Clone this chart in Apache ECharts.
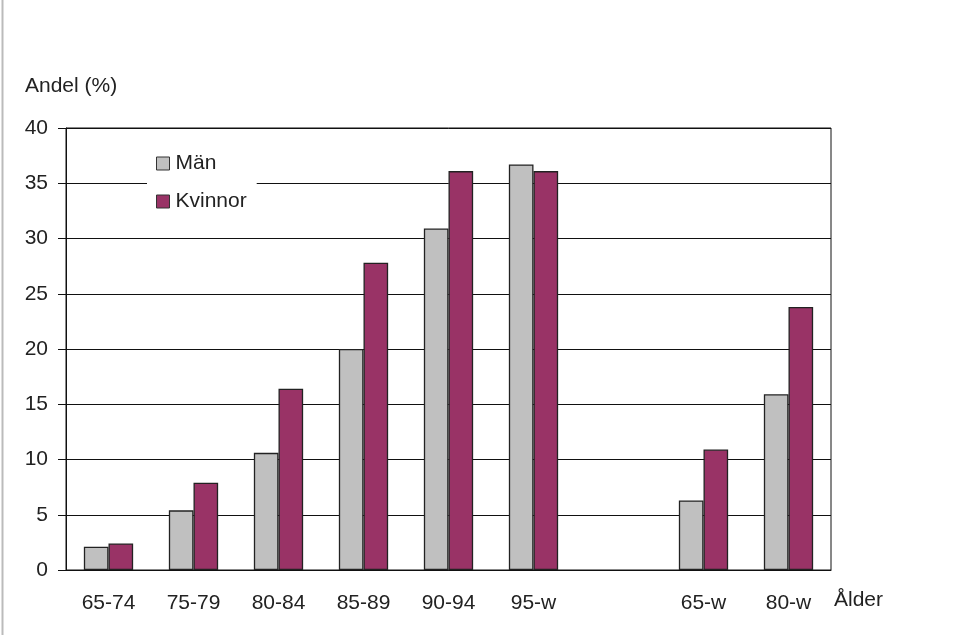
<!DOCTYPE html>
<html>
<head>
<meta charset="utf-8">
<script src="https://cdn.jsdelivr.net/npm/echarts@6/dist/echarts.min.js"></script>
<style>
  html, body { margin: 0; padding: 0; background: #fff; }
  #chart { width: 975px; height: 635px; }
</style>
</head>
<body>
<div id="chart"></div>
<script>
// Age groups; the empty slot separates the single groups from the cumulative ones
const categories = ['65-74', '75-79', '80-84', '85-89', '90-94', '95-w', '', '65-w', '80-w'];
const man = [2.1, 5.4, 10.6, 20.0, 30.9, 36.7, '-', 6.3, 15.9];
const kvinnor = [2.4, 7.9, 16.4, 27.8, 36.1, 36.1, '-', 10.9, 23.8];
const yTicks = { min: 0, max: 40, interval: 5 };

const font = 'Liberation Sans, Arial, sans-serif';
const ink = '#222';
const fs = 21;

const chart = echarts.init(document.getElementById('chart'), null, { renderer: 'canvas' });
chart.setOption({
  animation: false,
  backgroundColor: '#fff',
  textStyle: { fontFamily: font, color: ink },
  grid: {
    left: 66, right: 144, top: 128, bottom: 65,
    show: true, borderColor: '#111', borderWidth: 1, backgroundColor: 'transparent'
  },
  legend: {
    orient: 'vertical',
    left: 147, top: 148,
    padding: [5, 10, 6, 9],
    itemGap: 17,
    itemWidth: 13, itemHeight: 13,
    backgroundColor: '#fff',
    textStyle: { fontFamily: font, fontSize: fs, color: ink, padding: [0, 0, 0, 1] },
    data: [
      { name: 'Män', icon: 'rect', itemStyle: { color: '#c0c0c0', borderColor: '#333', borderWidth: 1 } },
      { name: 'Kvinnor', icon: 'rect', itemStyle: { color: '#993366', borderColor: '#333', borderWidth: 1 } }
    ]
  },
  xAxis: {
    type: 'category',
    data: categories,
    axisLine: { lineStyle: { color: '#111', width: 1 } },
    axisTick: { show: false },
    axisLabel: { fontFamily: font, fontSize: fs, color: ink, margin: 23, interval: 0 },
    splitLine: { show: false }
  },
  yAxis: {
    type: 'value',
    min: yTicks.min, max: yTicks.max, interval: yTicks.interval,
    axisLine: { show: true, lineStyle: { color: '#111', width: 1 } },
    axisTick: { show: true, length: 8, lineStyle: { color: '#111' } },
    axisLabel: { fontFamily: font, fontSize: fs, color: ink, margin: 18 },
    splitLine: { show: true, lineStyle: { color: '#111', width: 1 } }
  },
  graphic: [
    { type: 'line', shape: { x1: 2.5, y1: 0, x2: 2.5, y2: 635 }, style: { stroke: '#bbb', lineWidth: 2 } },
    { type: 'text', left: 25, top: 76, style: { text: 'Andel (%)', fontFamily: font, fontSize: fs, fill: ink } },
    { type: 'text', left: 834, top: 590, style: { text: 'Ålder', fontFamily: font, fontSize: fs, fill: ink } }
  ],
  series: [
    {
      name: 'Män', type: 'bar', data: man,
      barGap: '0%', barCategoryGap: '42%',
      itemStyle: { color: '#c0c0c0', borderColor: '#222', borderWidth: 1.3 }
    },
    {
      name: 'Kvinnor', type: 'bar', data: kvinnor,
      itemStyle: { color: '#993366', borderColor: '#222', borderWidth: 1.3 }
    }
  ]
});
</script>
</body>
</html>
